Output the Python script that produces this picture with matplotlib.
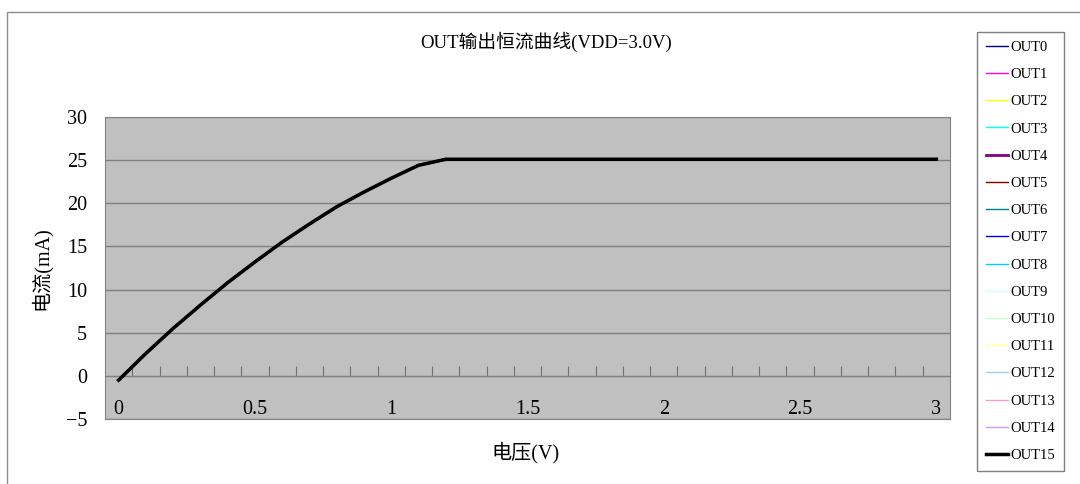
import numpy as np
import matplotlib
matplotlib.use("Agg")
import matplotlib.pyplot as plt
from matplotlib.patches import Rectangle

plt.rcParams["font.family"] = ["Liberation Serif", "Noto Sans CJK SC", "DejaVu Sans"]
plt.rcParams["axes.unicode_minus"] = True

# data: voltage categories 0..3.0 V, current in mA
voltage = [0.0, 0.1, 0.2, 0.3, 0.4, 0.5, 0.6, 0.7, 0.8, 0.9, 1.0,
           1.1, 1.2, 1.3, 1.4, 1.5, 1.6, 1.7, 1.8, 1.9, 2.0,
           2.1, 2.2, 2.3, 2.4, 2.5, 2.6, 2.7, 2.8, 2.9, 3.0]
current = [-0.5, 2.6, 5.5, 8.2, 10.8, 13.2, 15.5, 17.6, 19.6, 21.3, 22.9,
           24.4, 25.1, 25.1, 25.1, 25.1, 25.1, 25.1, 25.1, 25.1, 25.1,
           25.1, 25.1, 25.1, 25.1, 25.1, 25.1, 25.1, 25.1, 25.1, 25.1]

series_names = ["OUT%d" % i for i in range(16)]
series_colors = ["#000080", "#FF00FF", "#FFFF00", "#00FFFF", "#800080", "#800000",
                 "#008080", "#0000FF", "#00CCFF", "#CCFFFF", "#CCFFCC", "#FFFF99",
                 "#99CCFF", "#FF99CC", "#CC99FF", "#000000"]
series_widths = [1, 1, 1, 1, 2, 1, 1, 1, 1, 1, 1, 1, 1, 1, 1, 2.5]

x_ticks = [0, 0.5, 1, 1.5, 2, 2.5, 3]
x_ticklabels = ["0", "0.5", "1", "1.5", "2", "2.5", "3"]
y_ticks = [-5, 0, 5, 10, 15, 20, 25, 30]

W, H = 1080, 484
fig = plt.figure(figsize=(W / 100, H / 100), dpi=100)

# outer chart frame
fig.patches.append(Rectangle((7 / W, -0.1), 1.2, 1.1 - 12 / H, transform=fig.transFigure,
                             fill=False, edgecolor="#8c8c8c", lw=1))

ax = fig.add_axes([105 / W, 1 - 419 / H, 845 / W, 302 / H])
ax.set_facecolor("#C0C0C0")

for name, c, lw in zip(series_names, series_colors, series_widths):
    ax.plot(voltage, current, color=c, lw=lw, label=name)

ax.set_xlim(voltage[0] - 0.05, voltage[-1] + 0.05)
ax.set_ylim(-5, 30)
ax.set_yticks(y_ticks)
ax.set_yticklabels(["\u22125" if v < 0 else str(v) for v in y_ticks])
ax.set_xticks(x_ticks)
ax.set_xticklabels(x_ticklabels)
ax.tick_params(axis="y", length=0, pad=13, labelsize=14.5)
ax.tick_params(axis="x", length=0, pad=-14, labelsize=14.5)
ax.yaxis.grid(True, color="#808080", lw=1)
ax.set_axisbelow(True)
for s in ax.spines.values():
    s.set_color("#808080")

# category boundary ticks on the zero line
sec = ax.secondary_xaxis(5 / 35)
sec.set_xticks(np.array(voltage[1:]) - 0.05)
sec.tick_params(direction="in", length=7, color="#707070", labelbottom=False)
sec.spines["bottom"].set_color("#707070")

fig.text(546 / W, 1 - 42 / H, "OUT输出恒流曲线(VDD=3.0V)", ha="center", va="center",
         fontsize=13.5)
fig.text(526 / W, 1 - 453 / H, "电压(V)", ha="center", va="center", fontsize=14.5)
fig.text(41 / W, 1 - 268 / H, "电流(mA)", ha="center", va="center", rotation=90,
         fontsize=14.5)

leg = fig.legend(loc="upper left", bbox_to_anchor=(977 / W, 1 - 32 / H), fontsize=10.5,
                 frameon=True, fancybox=False, edgecolor="#808080", framealpha=1,
                 handlelength=1.5, handletextpad=0.2, labelspacing=0.96, borderpad=0.6,
                 borderaxespad=0)
leg.get_frame().set_linewidth(1)

fig.savefig("out.png", dpi=100)
